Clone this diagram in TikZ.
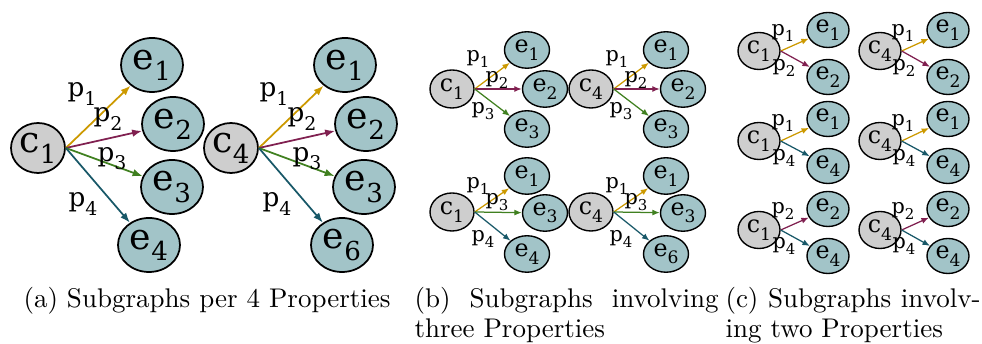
\documentclass[tikz,border=0pt]{standalone}
\usepackage{fontspec}
\newfontfamily\nodefont{DejaVu Serif}
\usetikzlibrary{shapes.geometric, arrows.meta, positioning}

\definecolor{pgold}{RGB}{204,153,0}
\definecolor{pwine}{RGB}{128,32,80}
\definecolor{pgreen}{RGB}{64,128,32}
\definecolor{pteal}{RGB}{24,88,104}
\definecolor{cgray}{RGB}{206,206,206}
\definecolor{eblue}{RGB}{162,196,200}

\newcommand{\lab}[2]{#1\raisebox{-0.6ex}{\scalebox{0.72}{#2}}}

\tikzset{
  cnode/.style={ellipse, draw, fill=cgray, inner sep=0pt},
  enode/.style={ellipse, draw, fill=eblue, inner sep=0pt},
  ca/.style={cnode, minimum width=21.6pt, minimum height=20pt, line width=0.7pt, font=\nodefont\fontsize{14.5}{14.5}\selectfont},
  ea/.style={enode, minimum width=24.8pt, minimum height=21.6pt, line width=0.7pt, font=\nodefont\fontsize{14.5}{14.5}\selectfont},
  cb/.style={cnode, minimum width=17.6pt, minimum height=15.2pt, line width=0.55pt, font=\nodefont\fontsize{9.5}{9.5}\selectfont},
  eb/.style={enode, minimum width=18pt, minimum height=14.6pt, line width=0.55pt, font=\nodefont\fontsize{9.5}{9.5}\selectfont},
  cc/.style={cb, minimum width=16.8pt, minimum height=14.8pt},
  ec/.style={eb, minimum width=16.8pt, minimum height=14pt},
  pa/.style={inner sep=0pt, font=\nodefont\fontsize{10.5}{10.5}\selectfont},
  pb/.style={inner sep=0pt, font=\nodefont\fontsize{8.3}{8.3}\selectfont},
  arra/.style={-{Latex[length=4pt,width=3pt]}, line width=0.7pt},
  arrb/.style={-{Latex[length=3pt,width=2.4pt]}, line width=0.5pt},
  captext/.style={inner sep=0pt, anchor=base west, font=\fontsize{10.8}{13}\selectfont}
}

\begin{document}
\begin{tikzpicture}[x=0.4pt, y=-0.4pt]
  \useasboundingbox (0,0) rectangle (982,344);

  % (a) four properties
  \node[ca] (a1c) at (38,148) {\lab{c}{1}};
  \node[ea] (a1e1) at (152,65) {\lab{e}{1}};
  \node[ea] (a1e2) at (173,124) {\lab{e}{2}};
  \node[ea] (a1e3) at (172,187) {\lab{e}{3}};
  \node[ea] (a1e4) at (149,245) {\lab{e}{4}};
  \draw[arra, pgold] (a1c.east) -- (a1e1);
  \draw[arra, pwine] (a1c.east) -- (a1e2);
  \draw[arra, pgreen] (a1c.east) -- (a1e3);
  \draw[arra, pteal] (a1c.east) -- (a1e4);
  \node[pa] (a1p1) at (82,94) {\lab{p}{1}};
  \node[pa] (a1p2) at (108,119) {\lab{p}{2}};
  \node[pa] (a1p3) at (112,159) {\lab{p}{3}};
  \node[pa] (a1p4) at (83,204) {\lab{p}{4}};

  \node[ca] (a4c) at (231,148) {\lab{c}{4}};
  \node[ea] (a4e1) at (345,65) {\lab{e}{1}};
  \node[ea] (a4e2) at (366,124) {\lab{e}{2}};
  \node[ea] (a4e3) at (364,187) {\lab{e}{3}};
  \node[ea] (a4e6) at (342,245) {\lab{e}{6}};
  \draw[arra, pgold] (a4c.east) -- (a4e1);
  \draw[arra, pwine] (a4c.east) -- (a4e2);
  \draw[arra, pgreen] (a4c.east) -- (a4e3);
  \draw[arra, pteal] (a4c.east) -- (a4e6);
  \node[pa] (a4p1) at (274,94) {\lab{p}{1}};
  \node[pa] (a4p2) at (302,119) {\lab{p}{2}};
  \node[pa] (a4p3) at (307,159) {\lab{p}{3}};
  \node[pa] (a4p4) at (277,204) {\lab{p}{4}};

  % (b) three properties
  \node[cb] (b1c) at (452,89) {\lab{c}{1}};
  \node[eb] (b1e1) at (527,50) {\lab{e}{1}};
  \node[eb] (b1e2) at (545,89) {\lab{e}{2}};
  \node[eb] (b1e3) at (527,129) {\lab{e}{3}};
  \draw[arrb, pgold] (b1c.east) -- (b1e1);
  \draw[arrb, pwine] (b1c.east) -- (b1e2);
  \draw[arrb, pgreen] (b1c.east) -- (b1e3);
  \node[pb] (b1p1) at (478,59) {\lab{p}{1}};
  \node[pb] (b1p2) at (497,80) {\lab{p}{2}};
  \node[pb] (b1p3) at (483,111) {\lab{p}{3}};

  \node[cb] (b4c) at (591,89) {\lab{c}{4}};
  \node[eb] (b4e1) at (666,50) {\lab{e}{1}};
  \node[eb] (b4e2) at (683,89) {\lab{e}{2}};
  \node[eb] (b4e3) at (666,129) {\lab{e}{3}};
  \draw[arrb, pgold] (b4c.east) -- (b4e1);
  \draw[arrb, pwine] (b4c.east) -- (b4e2);
  \draw[arrb, pgreen] (b4c.east) -- (b4e3);
  \node[pb] (b4p1) at (617,59) {\lab{p}{1}};
  \node[pb] (b4p2) at (636,80) {\lab{p}{2}};
  \node[pb] (b4p3) at (621,111) {\lab{p}{3}};

  \node[cb] (b1cc) at (452,212) {\lab{c}{1}};
  \node[eb] (b1ee1) at (527,176) {\lab{e}{1}};
  \node[eb] (b1ee3) at (545,213) {\lab{e}{3}};
  \node[eb] (b1ee4) at (527,254) {\lab{e}{4}};
  \draw[arrb, pgold] (b1cc.east) -- (b1ee1);
  \draw[arrb, pgreen] (b1cc.east) -- (b1ee3);
  \draw[arrb, pteal] (b1cc.east) -- (b1ee4);
  \node[pb] (b1pp1) at (478,186) {\lab{p}{1}};
  \node[pb] (b1pp3) at (497,202) {\lab{p}{3}};
  \node[pb] (b1pp4) at (483,239) {\lab{p}{4}};

  \node[cb] (b4cc) at (591,212) {\lab{c}{4}};
  \node[eb] (b4ee1) at (666,176) {\lab{e}{1}};
  \node[eb] (b4ee3) at (683,213) {\lab{e}{3}};
  \node[eb] (b4ee6) at (666,254) {\lab{e}{6}};
  \draw[arrb, pgold] (b4cc.east) -- (b4ee1);
  \draw[arrb, pgreen] (b4cc.east) -- (b4ee3);
  \draw[arrb, pteal] (b4cc.east) -- (b4ee6);
  \node[pb] (b4pp1) at (617,186) {\lab{p}{1}};
  \node[pb] (b4pp3) at (636,202) {\lab{p}{3}};
  \node[pb] (b4pp4) at (621,239) {\lab{p}{4}};

  % (c) two properties
  \node[cc] (c1a) at (759,51) {\lab{c}{1}};
  \node[ec] (c1a1) at (828,30) {\lab{e}{1}};
  \node[ec] (c1a2) at (828,77) {\lab{e}{2}};
  \draw[arrb, pgold] (c1a.east) -- (c1a1);
  \draw[arrb, pwine] (c1a.east) -- (c1a2);
  \node[pb] (c1ap1) at (783,33) {\lab{p}{1}};
  \node[pb] (c1ap2) at (784,68) {\lab{p}{2}};

  \node[cc] (c4a) at (880,51) {\lab{c}{4}};
  \node[ec] (c4a1) at (948,30) {\lab{e}{1}};
  \node[ec] (c4a2) at (948,77) {\lab{e}{2}};
  \draw[arrb, pgold] (c4a.east) -- (c4a1);
  \draw[arrb, pwine] (c4a.east) -- (c4a2);
  \node[pb] (c4ap1) at (903,33) {\lab{p}{1}};
  \node[pb] (c4ap2) at (904,68) {\lab{p}{2}};

  \node[cc] (c1b) at (759,141) {\lab{c}{1}};
  \node[ec] (c1b1) at (828,119) {\lab{e}{1}};
  \node[ec] (c1b4) at (828,166) {\lab{e}{4}};
  \draw[arrb, pgold] (c1b.east) -- (c1b1);
  \draw[arrb, pteal] (c1b.east) -- (c1b4);
  \node[pb] (c1bp1) at (783,123) {\lab{p}{1}};
  \node[pb] (c1bp4) at (784,158) {\lab{p}{4}};

  \node[cc] (c4b) at (880,141) {\lab{c}{4}};
  \node[ec] (c4b1) at (948,119) {\lab{e}{1}};
  \node[ec] (c4b4) at (948,166) {\lab{e}{4}};
  \draw[arrb, pgold] (c4b.east) -- (c4b1);
  \draw[arrb, pteal] (c4b.east) -- (c4b4);
  \node[pb] (c4bp1) at (903,123) {\lab{p}{1}};
  \node[pb] (c4bp4) at (904,158) {\lab{p}{4}};

  \node[cc] (c1c) at (759,230) {\lab{c}{1}};
  \node[ec] (c1c2) at (828,209) {\lab{e}{2}};
  \node[ec] (c1c4) at (828,256) {\lab{e}{4}};
  \draw[arrb, pwine] (c1c.east) -- (c1c2);
  \draw[arrb, pteal] (c1c.east) -- (c1c4);
  \node[pb] (c1cp2) at (783,211) {\lab{p}{2}};
  \node[pb] (c1cp4) at (784,246) {\lab{p}{4}};

  \node[cc] (c4c) at (880,230) {\lab{c}{4}};
  \node[ec] (c4c2) at (948,209) {\lab{e}{2}};
  \node[ec] (c4c4) at (948,256) {\lab{e}{4}};
  \draw[arrb, pwine] (c4c.east) -- (c4c2);
  \draw[arrb, pteal] (c4c.east) -- (c4c4);
  \node[pb] (c4cp2) at (903,211) {\lab{p}{2}};
  \node[pb] (c4cp4) at (904,246) {\lab{p}{4}};

  % captions
  \node[captext] (capa) at (23,308) {(a) Subgraphs per 4 Properties};
  \node[captext] (capb1) at (414,308) {\makebox[121.6pt][s]{(b) Subgraphs involving}};
  \node[captext] (capb2) at (414,338) {three Properties};
  \node[captext] (capc1) at (725,308) {\makebox[102pt][s]{(c) Subgraphs involv-}};
  \node[captext] (capc2) at (725,338) {ing two Properties};
\end{tikzpicture}
\end{document}
